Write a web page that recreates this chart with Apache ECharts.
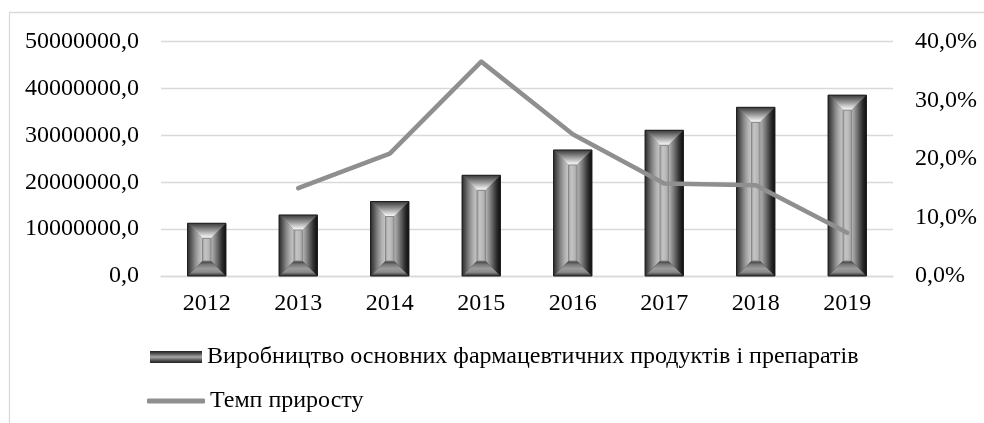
<!DOCTYPE html>
<html>
<head>
<meta charset="utf-8">
<title>Виробництво основних фармацевтичних продуктів і препаратів</title>
<script src="https://cdn.jsdelivr.net/npm/echarts@6/dist/echarts.min.js"></script>
<style>
  html, body { margin: 0; padding: 0; background: #ffffff; }
  #chart { width: 984px; height: 423px; }
</style>
</head>
<body>
<div id="chart"></div>
<script>
// Years on the category axis
const years = ['2012', '2013', '2014', '2015', '2016', '2017', '2018', '2019'];
// Production volume (left axis)
const production = [11260000, 13030000, 15900000, 21500000, 26900000, 31100000, 36000000, 38600000];
// Growth rate, % (right axis); no value for the first year
const growthRate = [null, 15.0, 20.9, 36.6, 24.2, 15.8, 15.5, 7.4];

const productionName = 'Виробництво основних фармацевтичних продуктів і препаратів';
const rateName = 'Темп приросту';

const FONT = '"Liberation Serif", "Times New Roman", serif';
const FONT_SIZE = 24;
const GRID_COLOR = '#d9d9d9';
const LINE_COLOR = '#8f8f8f';

function commaFixed(v) {
  return Number(v).toFixed(1).replace('.', ',');
}

function lin(x2, y2, stops) {
  return {
    type: 'linear', x: 0, y: 0, x2: x2, y2: y2, global: false,
    colorStops: stops.map(function (c, i) { return { offset: i / (stops.length - 1), color: c }; })
  };
}

// Beveled column: outer frame split into four sloped faces around a flat inner panel
function renderBevelBar(params, api) {
  const cat = api.value(0);
  const val = api.value(1);
  const top = api.coord([cat, val]);
  const base = api.coord([cat, 0]);
  const band = api.size([1, 0])[0];
  const w = band * 0.42;
  const x0 = top[0] - w / 2, x1 = top[0] + w / 2;
  const y0 = top[1], y1 = base[1];
  const h = y1 - y0;
  const b = Math.max(0, Math.min(15, w / 2 - 3, h / 2 - 1));
  const ix0 = x0 + b, ix1 = x1 - b, iy0 = y0 + b, iy1 = y1 - b;

  return {
    type: 'group',
    children: [
      { type: 'rect', shape: { x: x0, y: y0, width: w, height: h },
        style: { fill: '#2b2b2b' } },
      // left face
      { type: 'polygon', shape: { points: [[x0, y0], [ix0, iy0], [ix0, iy1], [x0, y1]] },
        style: { fill: lin(1, 0, ['#2a2a2a', '#5a5a5a', '#8a8a8a', '#b0b0b0', '#c8c8c8']) } },
      // right face
      { type: 'polygon', shape: { points: [[x1, y0], [ix1, iy0], [ix1, iy1], [x1, y1]] },
        style: { fill: lin(1, 0, ['#b8b8b8', '#8c8c8c', '#5c5c5c', '#2c2c2c', '#0e0e0e']) } },
      // top face
      { type: 'polygon', shape: { points: [[x0, y0], [x1, y0], [ix1, iy0], [ix0, iy0]] },
        style: { fill: lin(0, 1, ['#3a3a3a', '#6a6a6a', '#9c9c9c', '#d0d0d0', '#ffffff']) } },
      // bottom face
      { type: 'polygon', shape: { points: [[x0, y1], [x1, y1], [ix1, iy1], [ix0, iy1]] },
        style: { fill: lin(0, 1, ['#3c3c3c', '#7a7a7a', '#9a9a9a', '#8a8a8a', '#2e2e2e']) } },
      // inner panel
      { type: 'rect', shape: { x: ix0, y: iy0, width: ix1 - ix0, height: iy1 - iy0 },
        style: { fill: lin(1, 0, ['#9c9c9c', '#c4c4c4', '#b8b8b8', '#9a9a9a']), stroke: '#8a8a8a', lineWidth: 1 } },
      // outer outline
      { type: 'rect', shape: { x: x0, y: y0, width: w, height: h },
        style: { fill: null, stroke: '#1e1e1e', lineWidth: 1 } }
    ]
  };
}

const chart = echarts.init(document.getElementById('chart'), null, { renderer: 'canvas' });

chart.setOption({
  backgroundColor: '#ffffff',
  animation: false,
  textStyle: { fontFamily: FONT },
  graphic: [{
    type: 'rect',
    shape: { x: 9.5, y: 12.5, width: 1100, height: 600 },
    style: { fill: null, stroke: GRID_COLOR, lineWidth: 1.3 },
    silent: true
  }],
  grid: { left: 161, right: 91, top: 41.7, bottom: 147, containLabel: false },
  legend: [
    {
      data: [{ name: productionName, icon: 'rect' }],
      left: 150, top: 345, orient: 'vertical', padding: 0,
      itemWidth: 52, itemHeight: 12, selectedMode: false,
      textStyle: { fontFamily: FONT, fontSize: FONT_SIZE, color: '#000000' }
    },
    {
      data: [{ name: rateName, icon: 'roundRect' }],
      left: 147, top: 389, orient: 'vertical', padding: 0,
      itemWidth: 58, itemHeight: 5, selectedMode: false,
      itemStyle: { color: LINE_COLOR },
      textStyle: { fontFamily: FONT, fontSize: FONT_SIZE, color: '#000000' }
    }
  ],
  xAxis: {
    type: 'category',
    data: years,
    axisTick: { show: false },
    axisLine: { lineStyle: { color: GRID_COLOR, width: 1.3 } },
    axisLabel: { margin: 16, fontFamily: FONT, fontSize: FONT_SIZE, color: '#000000' }
  },
  yAxis: [
    {
      type: 'value', min: 0, max: 50000000, interval: 10000000,
      axisLine: { show: false }, axisTick: { show: false },
      splitLine: { lineStyle: { color: GRID_COLOR, width: 1.3 } },
      axisLabel: { margin: 22, fontFamily: FONT, fontSize: FONT_SIZE, color: '#000000',
        formatter: function (v) { return commaFixed(v); } }
    },
    {
      type: 'value', min: 0, max: 40, interval: 10, position: 'right',
      axisLine: { show: false }, axisTick: { show: false },
      splitLine: { show: false },
      axisLabel: { margin: 22, fontFamily: FONT, fontSize: FONT_SIZE, color: '#000000',
        formatter: function (v) { return commaFixed(v) + '%'; } }
    }
  ],
  series: [
    {
      name: productionName,
      type: 'custom',
      renderItem: renderBevelBar,
      encode: { x: 0, y: 1 },
      itemStyle: { color: lin(0, 1, ['#1e1e1e', '#5a5a5a', '#a8a8a8', '#5a5a5a', '#1e1e1e']) },
      data: production.map(function (v, i) { return [i, v]; }),
      z: 2
    },
    {
      name: rateName,
      type: 'line',
      yAxisIndex: 1,
      data: growthRate,
      symbol: 'none',
      connectNulls: false,
      lineStyle: { color: LINE_COLOR, width: 4.5, cap: 'round', join: 'round' },
      itemStyle: { color: LINE_COLOR },
      z: 3
    }
  ]
});
</script>
</body>
</html>
